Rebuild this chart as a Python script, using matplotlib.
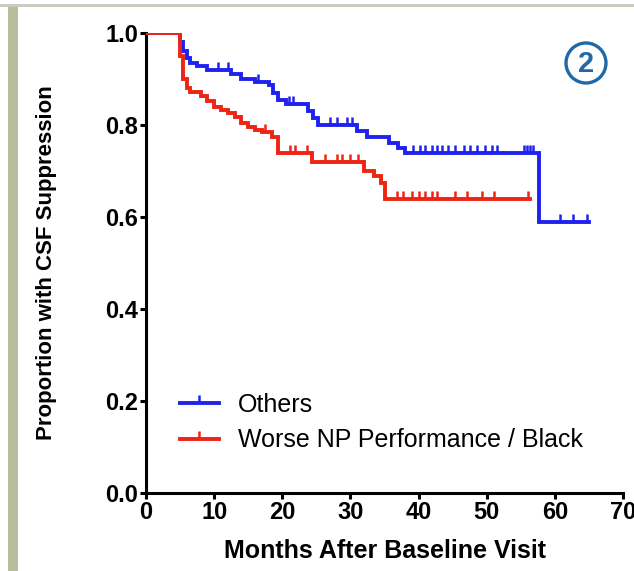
import numpy as np
import matplotlib
matplotlib.use("Agg")
import matplotlib.pyplot as plt
from matplotlib.lines import Line2D
from matplotlib.patches import Rectangle, Ellipse

plt.rcParams['font.family'] = ['Liberation Sans', 'DejaVu Sans']

# Kaplan-Meier step data (time in months, proportion suppressed)
others_t = [0, 5.0, 5.5, 6.0, 6.5, 7.5, 9.0, 12.5, 14.0, 16.0, 18.0, 18.6, 19.3,
            20.5, 23.8, 24.5, 25.3, 31.0, 32.5, 35.6, 37.0, 38.0, 57.7]
others_s = [1.0, 0.98, 0.96, 0.945, 0.935, 0.928, 0.92, 0.91, 0.90, 0.893, 0.887,
            0.87, 0.855, 0.845, 0.83, 0.815, 0.80, 0.788, 0.775, 0.76, 0.75, 0.74, 0.59]
others_end = 65.0
others_censor = [4.7, 10.5, 12.0, 16.5, 21.0, 21.6, 27.0, 28.0, 29.5, 30.3,
                 39.2, 40.2, 41.0, 42.0, 42.7, 43.5, 44.3, 45.4, 46.6, 47.6,
                 48.6, 49.8, 50.8, 51.5, 55.4, 55.9, 56.3, 56.8, 60.8, 62.7, 64.7]

worse_t = [0, 5.0, 5.5, 6.0, 6.5, 8.0, 9.0, 10.0, 11.0, 12.0, 13.0, 14.0, 15.0,
           16.0, 17.0, 18.5, 19.3, 24.4, 32.0, 33.5, 34.5, 35.0]
worse_s = [1.0, 0.95, 0.90, 0.88, 0.872, 0.862, 0.852, 0.84, 0.833, 0.826, 0.817,
           0.804, 0.796, 0.789, 0.785, 0.774, 0.74, 0.72, 0.70, 0.69, 0.675, 0.64]
worse_end = 56.4
worse_censor = [4.7, 17.5, 21.1, 21.9, 23.6, 26.3, 28.0, 28.8, 30.0, 31.1,
                36.9, 37.7, 39.0, 40.0, 41.0, 42.0, 42.7, 45.4, 47.1, 49.3, 51.0, 56.1]

series_labels = ["Others", "Worse NP Performance / Black"]
colors = ["#1f22ee", "#ee2414"]

x_ticks = [0, 10, 20, 30, 40, 50, 60, 70]
y_ticks = [0.0, 0.2, 0.4, 0.6, 0.8, 1.0]


def surv_at(times, surv, t):
    idx = np.searchsorted(times, t, side="right") - 1
    return np.asarray(surv)[idx]


W, H = 634, 571
fig = plt.figure(figsize=(W / 100, H / 100), dpi=100)
fig.patch.set_facecolor("white")

# slide frame: top rule and left band
fig.add_artist(Rectangle((0, 1 - 7 / H), 1, 2.5 / H, transform=fig.transFigure,
                         color="#c9ccc0", lw=0))
fig.add_artist(Rectangle((8 / W, 0), 10 / W, 1 - 7 / H, transform=fig.transFigure,
                         color="#b6bd9c", lw=0))

ax = fig.add_axes([146 / W, 78 / H, 477 / W, 460 / H])
ax.set_facecolor("white")

for t, s, end, cens, c in [(others_t, others_s, others_end, others_censor, colors[0]),
                           (worse_t, worse_s, worse_end, worse_censor, colors[1])]:
    tt = list(t) + [end]
    ss = list(s) + [s[-1]]
    ax.step(tt, ss, where="post", color=c, lw=2.8, solid_joinstyle="miter", zorder=3)
    ax.plot(cens, surv_at(t, s, cens), linestyle="none", marker=2, markersize=5.5,
            markeredgewidth=1.8, color=c, zorder=3)

ax.set_xlim(0, 70)
ax.set_ylim(0, 1.0)
ax.set_xticks(x_ticks)
ax.set_yticks(y_ticks)
ax.set_xticklabels([str(v) for v in x_ticks])
ax.set_yticklabels([f"{v:.1f}" for v in y_ticks])

for side in ["top", "right"]:
    ax.spines[side].set_visible(False)
for side in ["left", "bottom"]:
    ax.spines[side].set_linewidth(2.2)
    ax.spines[side].set_color("black")
ax.tick_params(axis="both", direction="out", length=4.5, width=2.2, color="black",
               labelsize=17, pad=1)
for lab in ax.get_xticklabels() + ax.get_yticklabels():
    lab.set_fontweight("bold")

ax.set_xlabel("Months After Baseline Visit", fontsize=18, fontweight="bold")
ax.set_ylabel("Proportion with CSF Suppression", fontsize=16, fontweight="bold")
ax.xaxis.set_label_coords(0.5, (493 - 551) / 460)
ax.xaxis.label.set_va("center")
ax.yaxis.set_label_coords((57 - 146) / 477, 0.5)

handles = [Line2D([0, 0.5, 1], [0, 0, 0], color=c, lw=2.8, marker=2, markersize=5.5,
                  markeredgewidth=1.8, markevery=[1]) for c in colors]
ax.legend(handles, series_labels, loc="upper left",
          bbox_to_anchor=((180 - 146) / 477, (493 - 393) / 460),
          frameon=False, fontsize=18, handlelength=1.55, handletextpad=0.75,
          labelspacing=0.45, borderaxespad=0, borderpad=0)

# circled step number
fig.add_artist(Ellipse((586 / W, 1 - 63 / H), 40 / W, 40 / H, transform=fig.transFigure,
                       fill=False, ec="#1f6aa6", lw=2.4))
fig.text(586 / W, 1 - 64 / H, "2", ha="center", va="center", fontsize=21,
         fontweight="bold", color="#1f6aa6")

fig.savefig("out.png", dpi=100, facecolor="white")
